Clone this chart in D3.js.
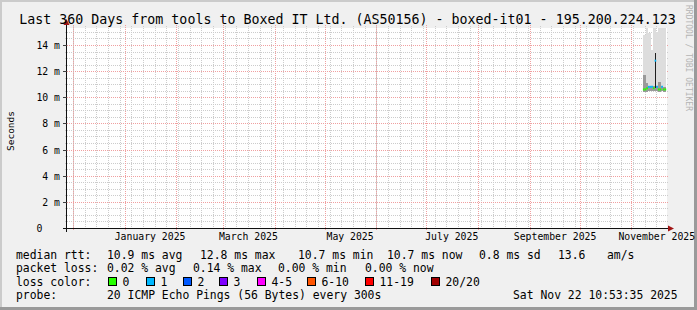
<!DOCTYPE html>
<html>
<head>
<meta charset="utf-8">
<script src="https://cdn.jsdelivr.net/npm/d3@7"></script>
<style>
body { margin: 0; background: #f0f0f0; }
svg { display: block; font-family: "DejaVu Sans Mono", monospace; }
text { white-space: pre; }
</style>
</head>
<body>
<svg id="chart" width="697" height="310"></svg>
<script>
// ---- values ----
var titleText = 'Last 360 Days from tools to Boxed IT Ltd. (AS50156) - boxed-it01 - 195.200.224.123';
var graphEnd = new Date(2025, 10, 22, 10, 53, 35);
var graphDays = 360;

var yTicks = [0, 2, 4, 6, 8, 10, 12, 14];   // ms
var yTickLabels = ['0  ', ' 2 m', ' 4 m', ' 6 m', ' 8 m', '10 m', '12 m', '14 m'];
var yMaxMs = 15.3;

var monthLabels = ['January 2025', 'March 2025', 'May 2025', 'July 2025', 'September 2025', 'November 2025'];
var monthLabelDates = ['2025-01-16', '2025-03-16', '2025-05-16', '2025-07-16', '2025-09-16', '2025-11-16'];

// one column per day where data exists
var sampleDays = ['2025-11-08', '2025-11-09', '2025-11-10', '2025-11-11', '2025-11-12', '2025-11-13', '2025-11-14',
                  '2025-11-15', '2025-11-16', '2025-11-17', '2025-11-18', '2025-11-19', '2025-11-20', '2025-11-21'];
var medianMs   = [10.6, 10.6, 10.7, 10.8, 10.8, 10.8, 10.7, 12.8, 10.8, 10.6, 10.6, 10.8, 10.6, 10.6];
var lossCount  = [0, 0, 0, 1, 1, 1, 0, 1, 1, 0, 0, 1, 0, 0];
var smokeMinMs = [10.4, 10.4, 10.4, 10.5, 10.5, 10.5, 10.5, 10.5, 10.5, 10.4, 10.4, 10.5, 10.4, 10.4];
var smokeMaxMs = [14.8, 14.8, 16.0, 14.9, 14.9, 13.6, 16.0, 16.0, 15.0, 16.0, 16.0, 16.0, 16.0, 16.0];
var innerHiMs  = [11.7, 11.7, 11.1, 10.9, 10.9, 10.9, 10.9, 13.4, 10.9, 11.2, 11.2, 10.9, 10.8, 10.8];
var coreLoMs   = [10.6, 10.6, 10.7, 10.8, 10.8, 10.8, 10.7, 10.7, 10.8, 10.6, 10.6, 10.8, 10.6, 10.6];
var coreHiMs   = [10.6, 10.6, 10.7, 10.8, 10.8, 10.8, 10.7, 13.4, 10.8, 10.6, 10.6, 10.8, 10.6, 10.6];

var lossLabels = ['0', '1', '2', '3', '4-5', '6-10', '11-19', '20/20'];
var lossUpper  = [0, 1, 2, 3, 5, 10, 19, 20];
var lossColors = ['#26ff00', '#00b8ff', '#0059ff', '#7e00ff', '#ff00ff', '#ff5500', '#ff0000', '#a10000'];

var rttStats  = ['10.9 ms avg', '12.8 ms max', '10.7 ms min', '10.7 ms now', '0.8 ms sd', '13.6', 'am/s'];
var lossStats = ['0.02 % avg', '0.14 % max', '0.00 % min', '0.00 % now'];
var probeText = '20 ICMP Echo Pings (56 Bytes) every 300s';
var stampText = 'Sat Nov 22 10:53:35 2025';
var watermark = 'RRDTOOL / TOBI OETIKER';

// ---- layout ----
var W = 697, H = 310;
var plot = {l: 67, r: 667, t: 28, b: 228};
var parseDay = d3.timeParse('%Y-%m-%d');
var graphStart = d3.timeDay.offset(graphEnd, -graphDays);

var svg = d3.select('#chart');

var x = d3.scaleTime().domain([graphStart, graphEnd]).range([plot.l, plot.r]);
var y = d3.scaleLinear().domain([0, yMaxMs]).range([plot.b, plot.t]);

// background + 3d frame
svg.append('rect').attr('width', W).attr('height', H).attr('fill', '#f0f0f0');
svg.append('rect').attr('width', W).attr('height', 2).attr('fill', '#cbcbcb');
svg.append('rect').attr('width', 2).attr('height', H).attr('fill', '#cbcbcb');
svg.append('rect').attr('x', W - 3).attr('width', 3).attr('height', H).attr('fill', '#9a9a9a');
svg.append('rect').attr('y', H - 3).attr('width', W).attr('height', 3).attr('fill', '#9a9a9a');

// canvas
svg.append('rect')
    .attr('x', plot.l).attr('y', plot.t)
    .attr('width', plot.r - plot.l).attr('height', plot.b - plot.t)
    .attr('fill', '#ffffff');

svg.append('clipPath').attr('id', 'clip')
    .append('rect')
    .attr('x', plot.l).attr('y', plot.t)
    .attr('width', plot.r - plot.l).attr('height', plot.b - plot.t);

// grid
var gridG = svg.append('g').attr('shape-rendering', 'crispEdges');

var minorY = d3.range(0.5, yMaxMs, 0.5).filter(function(v) { return v % 2 !== 0; });
gridG.selectAll('.hminor').data(minorY).enter().append('line')
    .attr('x1', plot.l - 2).attr('x2', plot.r + 2)
    .attr('y1', function(d) { return Math.round(y(d)) + 0.5; })
    .attr('y2', function(d) { return Math.round(y(d)) + 0.5; })
    .attr('stroke', '#cccccc').attr('stroke-dasharray', '1,1');

var weeks = d3.timeSunday.range(graphStart, graphEnd);
gridG.selectAll('.vminor').data(weeks).enter().append('line')
    .attr('x1', function(d) { return Math.round(x(d)) + 0.5; })
    .attr('x2', function(d) { return Math.round(x(d)) + 0.5; })
    .attr('y1', plot.t - 2).attr('y2', plot.b)
    .attr('stroke', '#cccccc').attr('stroke-dasharray', '1,1');

gridG.selectAll('.hmajor').data(yTicks.slice(1)).enter().append('line')
    .attr('x1', plot.l - 2).attr('x2', plot.r + 2)
    .attr('y1', function(d) { return Math.round(y(d)) + 0.5; })
    .attr('y2', function(d) { return Math.round(y(d)) + 0.5; })
    .attr('stroke', '#f0a0a0').attr('stroke-dasharray', '1,1');

var months = d3.timeMonth.range(graphStart, graphEnd);
gridG.selectAll('.vmajor').data(months).enter().append('line')
    .attr('x1', function(d) { return Math.round(x(d)) + 0.5; })
    .attr('x2', function(d) { return Math.round(x(d)) + 0.5; })
    .attr('y1', plot.t - 3).attr('y2', plot.b + 3)
    .attr('stroke', '#f0a0a0').attr('stroke-dasharray', '1,1');

// smoke + median
var dataG = svg.append('g').attr('clip-path', 'url(#clip)').attr('shape-rendering', 'crispEdges');
var cols = sampleDays.map(function(s, i) {
    var d0 = parseDay(s);
    return {x0: x(d0), x1: x(d3.timeDay.offset(d0, 1)), i: i};
});

function band(lo, hi, color) {
    dataG.append('g').selectAll('rect').data(cols).enter().append('rect')
        .attr('x', function(c) { return c.x0; })
        .attr('width', function(c) { return c.x1 - c.x0; })
        .attr('y', function(c) { return y(hi[c.i]); })
        .attr('height', function(c) { return Math.max(0, y(lo[c.i]) - y(hi[c.i])); })
        .attr('fill', color);
}
band(smokeMinMs, smokeMaxMs, '#dddddd');
band(smokeMinMs, innerHiMs, '#9a9a9a');
band(coreLoMs, coreHiMs, '#1e1e1e');

function lossColor(n) {
    for (var k = 0; k < lossUpper.length; k++) if (n <= lossUpper[k]) return lossColors[k];
    return lossColors[lossColors.length - 1];
}
svg.append('g').selectAll('line').data(cols).enter().append('line')
    .attr('x1', function(c) { return c.x0; })
    .attr('x2', function(c) { return c.x1; })
    .attr('y1', function(c) { return y(medianMs[c.i]); })
    .attr('y2', function(c) { return y(medianMs[c.i]); })
    .attr('stroke', function(c) { return lossColor(lossCount[c.i]); })
    .attr('stroke-width', 2);

// axes lines with arrows
var axisG = svg.append('g').attr('shape-rendering', 'crispEdges');
axisG.append('line').attr('x1', plot.l - 4).attr('x2', plot.r + 2)
    .attr('y1', plot.b + 0.5).attr('y2', plot.b + 0.5).attr('stroke', '#101010');
axisG.append('line').attr('x1', plot.l - 0.5).attr('x2', plot.l - 0.5)
    .attr('y1', plot.b + 4).attr('y2', plot.t - 3).attr('stroke', '#101010');
svg.append('path')
    .attr('d', 'M' + (plot.r + 1) + ',' + (plot.b - 2.5) + 'L' + (plot.r + 7) + ',' + (plot.b + 0.5) + 'L' + (plot.r + 1) + ',' + (plot.b + 3.5) + 'Z')
    .attr('fill', '#a11515');
svg.append('path')
    .attr('d', 'M' + (plot.l - 3.5) + ',' + (plot.t - 3) + 'L' + (plot.l - 0.5) + ',' + (plot.t - 9) + 'L' + (plot.l + 2.5) + ',' + (plot.t - 3) + 'Z')
    .attr('fill', '#a11515');

// y tick marks
axisG.selectAll('.ytick').data(yTicks.slice(1)).enter().append('line')
    .attr('x1', plot.l - 4).attr('x2', plot.l)
    .attr('y1', function(d) { return Math.round(y(d)) + 0.5; })
    .attr('y2', function(d) { return Math.round(y(d)) + 0.5; })
    .attr('stroke', '#404040');

// y labels (monospace, right edge at x=60)
svg.append('g').selectAll('text').data(yTicks).enter().append('text')
    .attr('x', 36.5)
    .attr('y', function(d) { return Math.round(y(d)) + 4; })
    .attr('font-size', '9.8px')
    .attr('textLength', 23.5)
    .style('fill', '#000000')
    .text(function(d, i) { return yTickLabels[i]; });

// x labels
var xAxis = d3.axisBottom(x).tickValues(monthLabelDates.map(parseDay)).tickSize(0).tickPadding(0)
    .tickFormat(function(d, i) { return monthLabels[i]; });
var xG = svg.append('g').attr('transform', 'translate(0,' + 240 + ')').call(xAxis);
xG.select('.domain').remove();
xG.selectAll('text').attr('font-family', '"DejaVu Sans Mono", monospace')
    .attr('font-size', '9.8px').attr('fill', '#000').attr('y', 0).attr('dy', 0);

// title
svg.append('text').attr('x', 347.5).attr('y', 24).attr('text-anchor', 'middle')
    .attr('font-size', '13.3px').attr('fill', '#000').text(titleText);

// vertical label
svg.append('text').attr('transform', 'translate(14,131) rotate(-90)')
    .attr('text-anchor', 'middle').attr('font-size', '9.5px').attr('fill', '#000').text('Seconds');

// watermark
svg.append('text').attr('transform', 'translate(686,5) rotate(90)')
    .attr('font-size', '8px').attr('fill', '#b4b4b4').text(watermark);

// legend
var lg = svg.append('g').attr('font-size', '11.4px').attr('fill', '#000');
var rowY = [258.5, 272, 285.5, 299];
lg.append('text').attr('x', 16).attr('y', rowY[0]).text('median rtt:');
var rttX = [107, 200, 298, 387, 479, 558, 607];
rttStats.forEach(function(s, i) { lg.append('text').attr('x', rttX[i]).attr('y', rowY[0]).text(s); });

lg.append('text').attr('x', 16).attr('y', rowY[1]).text('packet loss:');
var lossX = [107, 193, 278, 365];
lossStats.forEach(function(s, i) { lg.append('text').attr('x', lossX[i]).attr('y', rowY[1]).text(s); });

lg.append('text').attr('x', 16).attr('y', rowY[2]).text('loss color:');
var boxX = [108, 146, 183, 219, 257, 307, 365, 431];
lossLabels.forEach(function(s, i) {
    lg.append('rect').attr('x', boxX[i] + 0.5).attr('y', 277.5).attr('width', 8).attr('height', 8)
        .attr('fill', lossColors[i]).attr('stroke', '#000');
    lg.append('text').attr('x', boxX[i] + 14.5).attr('y', rowY[2]).text(s);
});

lg.append('text').attr('x', 16).attr('y', rowY[3]).text('probe:');
lg.append('text').attr('x', 107).attr('y', rowY[3]).text(probeText);
lg.append('text').attr('x', 513).attr('y', rowY[3]).text(stampText);
</script>
</body>
</html>
